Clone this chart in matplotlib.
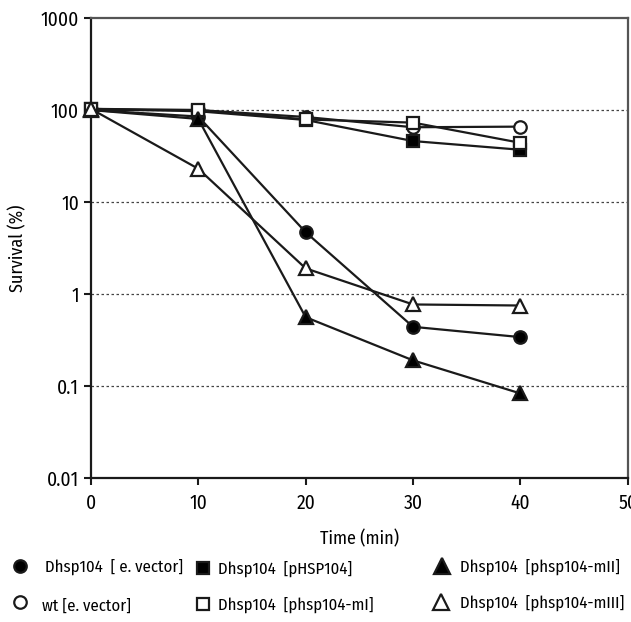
import matplotlib
matplotlib.use("Agg")
import matplotlib.pyplot as plt
from matplotlib.lines import Line2D

plt.rcParams["font.family"] = ["Fira Sans Condensed", "DejaVu Sans"]

time = [0, 10, 20, 30, 40]
e_vector = [100, 85, 4.7, 0.44, 0.34]
wt_vector = [100, 100, 84, 65, 66]
p_hsp104 = [103, 97, 78, 46, 37]
m1 = [103, 100, 79, 73, 44]
m2 = [100, 80, 0.56, 0.19, 0.083]
m3 = [103, 23, 1.9, 0.77, 0.75]

series = [
    (e_vector, "o", "black", "Dhsp104  [ e. vector]"),
    (wt_vector, "o", "white", "wt [e. vector]"),
    (p_hsp104, "s", "black", "Dhsp104  [pHSP104]"),
    (m1, "s", "white", "Dhsp104  [phsp104-mI]"),
    (m2, "^", "black", "Dhsp104  [phsp104-mII]"),
    (m3, "^", "white", "Dhsp104  [phsp104-mIII]"),
]

fig = plt.figure(figsize=(6.31, 6.22), dpi=100)
ax = fig.add_axes([0.144, 0.2315, 0.851, 0.7395])
ax.set_yscale("log")
ax.set_xlim(0, 50)
ax.set_ylim(0.01, 1000)

for y in [0.1, 1, 10, 100]:
    ax.axhline(y, color="#444444", lw=0.9, ls=(0, (2, 2)), zorder=1)

for vals, mk, fc, lab in series:
    ax.plot(time, vals, color="#1a1a1a", lw=1.6, marker=mk, ms=10 if mk == "^" else 9,
            mfc=fc, mec="#1a1a1a", mew=1.6, zorder=3, clip_on=False)

ax.set_xticks([0, 10, 20, 30, 40, 50])
ax.set_yticks([0.01, 0.1, 1, 10, 100, 1000])
ax.set_yticklabels(["0.01", "0.1", "1", "10", "100", "1000"])
ax.minorticks_off()
ax.tick_params(axis="both", labelsize=14, length=5, width=1.5, color="#1a1a1a", direction="out")
ax.tick_params(axis="x", pad=6)
for s in ax.spines.values():
    s.set_linewidth(1.6)
    s.set_color("#1a1a1a")
ax.spines["right"].set_color("#555555")
ax.spines["top"].set_color("#555555")

ax.set_xlabel("Time (min)", fontsize=13, labelpad=12)
ax.set_ylabel("Survival (%)", fontsize=13, labelpad=10)

# legend drawn as marker + text rows under the axes
rows = [
    [(20, 566, "o", "black", 45, series[0][3]),
     (203, 568, "s", "black", 218, series[2][3]),
     (442, 566, "^", "black", 460, series[4][3])],
    [(20, 602, "o", "white", 42, series[1][3]),
     (203, 604, "s", "white", 218, series[3][3]),
     (441, 602, "^", "white", 460, series[5][3])],
]
W, H = 631, 622
for row in rows:
    for mx, my, mk, fc, tx, lab in row:
        fig.add_artist(Line2D([mx / W], [1 - my / H], transform=fig.transFigure, marker=mk,
                              ms=12 if mk == "^" else 9, mfc=fc, mec="#1a1a1a", mew=1.6, ls="none"))
        ty = my + 4 if lab.startswith("wt") else my + 1
        fig.text(tx / W, 1 - ty / H, lab, fontsize=12, va="center", ha="left")

fig.savefig("out.png", dpi=100)
